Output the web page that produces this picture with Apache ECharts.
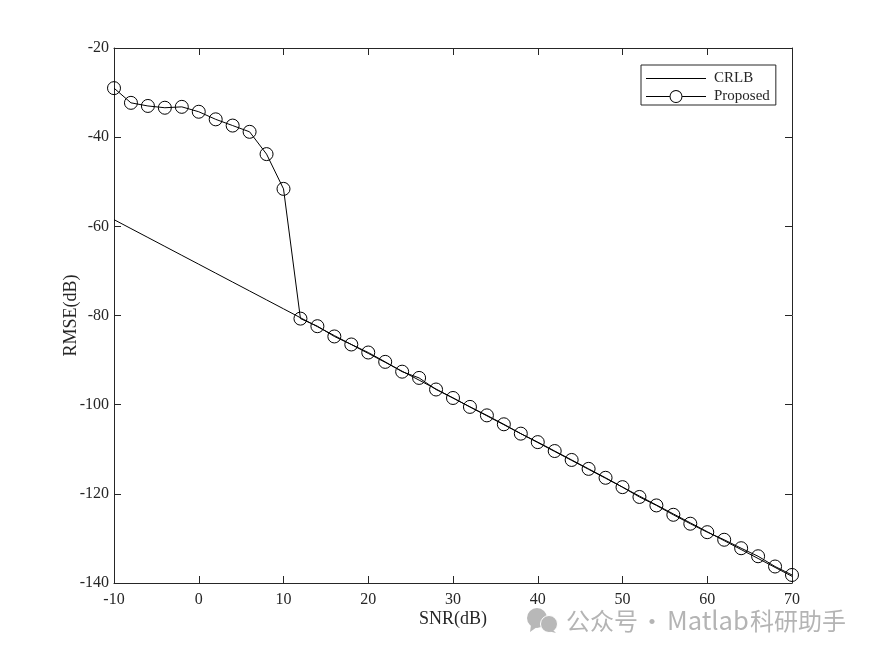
<!DOCTYPE html>
<html><head><meta charset="utf-8">
<style>html,body{margin:0;padding:0;background:#fff}#c{width:875px;height:656px}</style>
<script src="https://cdn.jsdelivr.net/npm/echarts@6/dist/echarts.min.js"></script>
</head><body><div id="c"></div>
<script>
const snr = [-10,-8,-6,-4,-2,0,2,4,6,8,10,12,14,16,18,20,22,24,26,28,30,32,34,36,38,40,42,44,46,48,50,52,54,56,58,60,62,64,66,68,70];
const crlb = [-58.5,-60.5,-62.5,-64.5,-66.5,-68.5,-70.5,-72.5,-74.5,-76.5,-78.5,-80.5,-82.5,-84.5,-86.5,-88.5,-90.5,-92.5,-94.5,-96.5,-98.5,-100.5,-102.5,-104.5,-106.5,-108.5,-110.5,-112.5,-114.5,-116.5,-118.5,-120.5,-122.5,-124.5,-126.5,-128.5,-130.5,-132.5,-134.5,-136.5,-138.5];
const proposed = [-29,-32.3,-33,-33.4,-33.2,-34.3,-36,-37.4,-38.8,-43.8,-51.6,-80.7,-82.4,-84.7,-86.5,-88.3,-90.4,-92.6,-94,-96.6,-98.5,-100.5,-102.4,-104.4,-106.5,-108.4,-110.4,-112.4,-114.4,-116.4,-118.5,-120.7,-122.6,-124.7,-126.7,-128.6,-130.3,-132.2,-134,-136.3,-138.2];
const xTicks = {min:-10,max:70,interval:10};
const yTicks = {min:-140,max:-20,interval:20};
const serif = '"Liberation Serif","Times New Roman",serif';
const ink = '#262626';
const zip = a => snr.map((x,i)=>[x,a[i]]);
const axisLine = {show:true,onZero:false,lineStyle:{color:ink,width:1}};
const tickIn = {show:true,inside:true,length:7,lineStyle:{color:ink,width:1}};
const iconLine = 'path://M0 0L0 0ZM60 14L60 14ZM0 6.5H60V7.5H0Z';
const iconRing = 'path://M0 6.5H23.5V7.5H0ZM36.5 6.5H60V7.5H36.5ZM23.5 7a6.5 6.5 0 1 0 13 0a6.5 6.5 0 1 0 -13 0ZM24.5 7a5.5 5.5 0 1 1 11 0a5.5 5.5 0 1 1 -11 0Z';
const markFont = s => '400 '+s+'px "Noto Sans CJK SC","Noto Sans",sans-serif';
const chart = echarts.init(document.getElementById('c'),null,{renderer:'canvas'});
chart.setOption({
  animation:false,
  backgroundColor:'#fff',
  grid:{left:114,right:83,top:48,bottom:73},
  xAxis:[
    {type:'value',...xTicks,position:'bottom',axisLine,axisTick:tickIn,splitLine:{show:false},
     axisLabel:{color:ink,fontFamily:serif,fontSize:16,margin:9},
     name:'SNR(dB)',nameLocation:'middle',nameGap:27,nameMoveOverlap:false,nameTextStyle:{color:ink,fontFamily:serif,fontSize:18}},
    {type:'value',...xTicks,position:'top',axisLine,axisTick:tickIn,splitLine:{show:false},axisLabel:{show:false}}
  ],
  yAxis:[
    {type:'value',...yTicks,position:'left',axisLine,axisTick:tickIn,splitLine:{show:false},
     axisLabel:{color:ink,fontFamily:serif,fontSize:16,margin:5},
     name:'RMSE(dB)',nameLocation:'middle',nameGap:34,nameMoveOverlap:false,nameTextStyle:{color:ink,fontFamily:serif,fontSize:18}},
    {type:'value',...yTicks,position:'right',axisLine,axisTick:tickIn,splitLine:{show:false},axisLabel:{show:false}}
  ],
  legend:{
    left:641,top:65,orient:'vertical',itemWidth:60,itemHeight:14,itemGap:3,padding:[6,6,1,5],
    borderColor:ink,borderWidth:1,backgroundColor:'#fff',align:'left',
    textStyle:{color:ink,fontFamily:serif,fontSize:15,padding:[0,0,0,3]},
    data:[
      {name:'CRLB',icon:iconLine,itemStyle:{color:'#000',borderWidth:0}},
      {name:'Proposed',icon:iconRing,itemStyle:{color:'#000',borderWidth:0}}
    ]
  },
  series:[
    {name:'CRLB',type:'line',data:zip(crlb),showSymbol:false,symbol:'none',clip:false,
     lineStyle:{color:'#000',width:1},itemStyle:{color:'#000'}},
    {name:'Proposed',type:'line',data:zip(proposed),symbol:'circle',symbolSize:13,clip:false,
     lineStyle:{color:'#000',width:1},
     itemStyle:{color:'rgba(255,255,255,0)',borderColor:'#000',borderWidth:1}}
  ],
  graphic:[
    {type:'group',left:527,top:608,silent:true,children:[
      {type:'circle',shape:{cx:10,cy:12,r:10},style:{fill:'#b8b8b8'}},
      {type:'circle',shape:{cx:22,cy:18,r:8.5},style:{fill:'#b8b8b8',stroke:'#fff',lineWidth:1}},
      {type:'polygon',shape:{points:[[4,19],[3,26],[10,21]]},style:{fill:'#b8b8b8'}},
      {type:'polygon',shape:{points:[[26,24],[29,27],[21,25]]},style:{fill:'#b8b8b8'}}
    ]},
    {type:'text',left:566,top:609,silent:true,style:{text:'公众号',fill:'#b4b4b4',font:markFont(24)}},
    {type:'text',left:640,top:609,silent:true,style:{text:'·',fill:'#b4b4b4',font:markFont(24)}},
    {type:'text',left:667,top:608,silent:true,style:{text:'Matlab',fill:'#b4b4b4',font:markFont(25.5)}},
    {type:'text',left:750,top:609,silent:true,style:{text:'科研助手',fill:'#b4b4b4',font:markFont(24)}}
  ]
});
</script></body></html>
